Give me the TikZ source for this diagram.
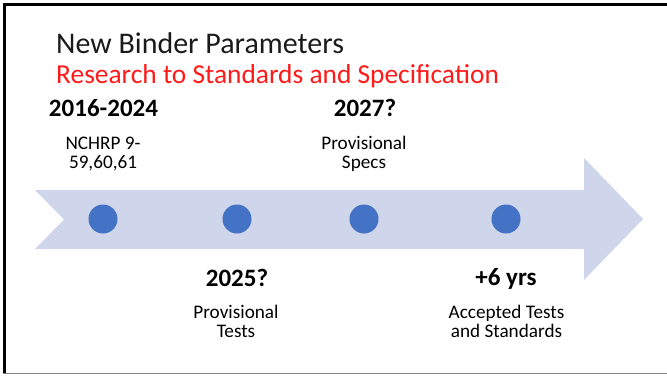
\documentclass[tikz,border=0pt]{standalone}
\usepackage{fontspec}
\setmainfont{Carlito}
\definecolor{arrowfill}{HTML}{CFD5EA}
\definecolor{dotfill}{HTML}{4472C4}
\definecolor{titleink}{HTML}{1A1A1A}
\definecolor{subred}{HTML}{FF1A1A}
\begin{document}
\begin{tikzpicture}[x=1pt,y=-1pt,
  title/.style={anchor=base west,inner sep=0pt,text=titleink,font=\fontsize{30}{35}\selectfont},
  subtitle/.style={anchor=base west,inner sep=0pt,text=subred,font=\fontsize{27.4}{32}\selectfont},
  year/.style={anchor=base,inner sep=0pt,font=\fontsize{25}{30}\selectfont\bfseries},
  note/.style={anchor=base,inner sep=0pt,font=\fontsize{19.2}{23}\selectfont},
  dot/.style={circle,fill=dotfill,minimum size=29pt,inner sep=0pt}]
\useasboundingbox (0,0) rectangle (667,376);
% slide frame
\draw[line width=3.5pt] (2.5,4.5) -- (667,4.5);
\draw[line width=3.5pt] (4.5,3) -- (4.5,374);
\draw[line width=1.3pt,gray] (3,373.5) -- (667,373.5);
% headings
\node[title] (ttl) at (56,53.3) {New Binder Parameters};
\node[subtitle] (sub) at (56,83.3) {Research to Standards and Specification};
% timeline arrow
\fill[arrowfill] (35,190) -- (584,190) -- (584,158) -- (643,219) -- (584,280)
  -- (584,249) -- (35,249) -- (64,219.5) -- cycle;
% milestones
\node[dot] (m1) at (103,219) {};
\node[dot] (m2) at (237,219) {};
\node[dot] (m3) at (364,219) {};
\node[dot] (m4) at (506,219) {};
% labels above
\node[year] (y1) at (103.5,116) {2016-2024};
\node[note] (n1a) at (103,149) {NCHRP 9-};
\node[note] (n1b) at (103,168.5) {59,60,61};
\node[year] (y3) at (365,116) {2027?};
\node[note] (n3a) at (364,149) {Provisional};
\node[note] (n3b) at (364,168.5) {Specs};
% labels below
\node[year] (y2) at (237,286) {2025?};
\node[note] (n2a) at (236,318) {Provisional};
\node[note] (n2b) at (236,337.5) {Tests};
\node[year] (y4) at (506,285) {+6 yrs};
\node[note] (n4a) at (506.5,318) {Accepted Tests};
\node[note] (n4b) at (506.5,337.5) {and Standards};
\end{tikzpicture}
\end{document}
